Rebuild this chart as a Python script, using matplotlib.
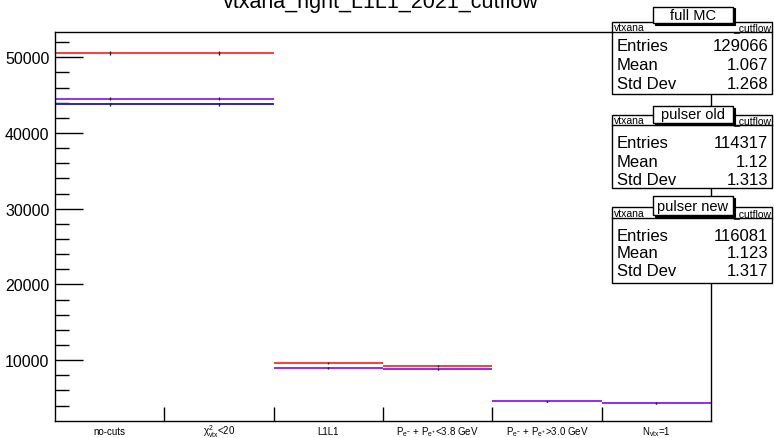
import numpy as np
import matplotlib.pyplot as plt
from matplotlib.patches import Rectangle

plt.rcParams['font.family'] = ['Liberation Sans', 'DejaVu Sans']
plt.rcParams['mathtext.fontset'] = 'custom'
plt.rcParams['mathtext.rm'] = 'Liberation Sans'
plt.rcParams['mathtext.it'] = 'Liberation Sans'

# cutflow bins
cut_labels = ["no-cuts", r"$\chi^{2}_{vtx}$<20", "L1L1",
              r"P$_{e^{-}}$ + P$_{e^{+}}$<3.8 GeV", r"P$_{e^{-}}$ + P$_{e^{+}}$>3.0 GeV",
              r"N$_{vtx}$=1"]
full_mc = [50600, 50600, 9650, 9250, 4580, 4336]
pulser_new = [44560, 44560, 9000, 8820, 4600, 4400]
pulser_old = [43820, 43820, 8980, 8780, 4580, 4337]

stat_names = ["full MC", "pulser old", "pulser new"]
stat_entries = ["129066", "114317", "116081"]
stat_means = ["1.067", "1.12", "1.123"]
stat_stds = ["1.268", "1.313", "1.317"]
hist_name = "vtxana_right_L1L1_2021_cutflow"

W, H = 774, 439
fig = plt.figure(figsize=(W / 100, H / 100), dpi=100)
ax = fig.add_axes([55 / W, 1 - 422 / H, (711 - 55) / W, (422 - 33) / H])

edges = np.arange(len(cut_labels) + 1) - 0.5
centers = np.arange(len(cut_labels))

# drawing order: red, blue, purple on top
series = [(full_mc, '#ff3b3b'), (pulser_old, '#2a2aa8'), (pulser_new, '#9a2ff5')]
for vals, col in series:
    vals = np.array(vals, dtype=float)
    ax.hlines(vals, edges[:-1], edges[1:], colors=col, linewidth=1.4, zorder=2)
    ax.errorbar(centers, vals, yerr=np.sqrt(vals), fmt='none', ecolor='#222222',
                elinewidth=1.0, capsize=0, zorder=3)

ax.set_xlim(edges[0], edges[-1])
ax.set_ylim(1960, 53350)
ax.set_xticks(edges[1:-1])
ax.set_xticklabels([])
ax.tick_params(axis='x', which='major', direction='in', length=10, width=1, bottom=True, top=False)
for c, lab in zip(centers, cut_labels):
    ax.text(c, -10 / 389, lab, transform=ax.get_xaxis_transform(), ha='center', va='center',
            fontsize=7)
ax.set_yticks([10000, 20000, 30000, 40000, 50000])
ax.set_yticks(np.arange(4000, 53000, 2000), minor=True)
ax.tick_params(axis='y', which='major', direction='in', length=20, width=1, labelsize=11.5, pad=4)
ax.tick_params(axis='y', which='minor', direction='in', length=10, width=1)
for s in ax.spines.values():
    s.set_linewidth(1)

fig.text(381 / W, 1 - 8 / H, hist_name, ha='center', va='baseline', fontsize=15.5)


def fy(p):
    return 1 - p / H


def fx(p):
    return p / W


boxes = [(22.7, 32.7, 95, (7.7, 24.3), (46.5, 65.5, 84.5)),
         (116, 126, 189, (107, 124), (144, 162.5, 180.5)),
         (208.3, 219.3, 284, (197.3, 216), (236.5, 254, 271.5))]
for i, (top, div, bot, (lt, lb), rows) in enumerate(boxes):
    fig.patches.append(Rectangle((fx(612), fy(bot)), fx(772) - fx(612), fy(top) - fy(bot),
                                 transform=fig.transFigure, facecolor='white', edgecolor='black',
                                 linewidth=1, zorder=5))
    fig.lines.append(plt.Line2D([fx(612), fx(772)], [fy(div), fy(div)],
                                transform=fig.transFigure, color='black', linewidth=1, zorder=6))
    fig.text(fx(614), fy((top + div) / 2), hist_name[:7], fontsize=7.5, va='center', ha='left', zorder=6)
    fig.text(fx(771), fy((top + div) / 2), "_cutflow", fontsize=7.5, va='center', ha='right', zorder=6)
    # label box with shadow
    fig.patches.append(Rectangle((fx(654.5), fy(lb + 1.5)), fx(733) - fx(653), fy(lt) - fy(lb),
                                 transform=fig.transFigure, facecolor='black', edgecolor='black',
                                 linewidth=0.8, zorder=7))
    fig.patches.append(Rectangle((fx(653), fy(lb)), fx(733) - fx(653), fy(lt) - fy(lb),
                                 transform=fig.transFigure, facecolor='white', edgecolor='black',
                                 linewidth=1, zorder=8))
    fig.text(fx(693), fy((lt + lb) / 2), stat_names[i], fontsize=10.5, ha='center', va='center', zorder=9)
    for j, (name, val) in enumerate([("Entries", stat_entries[i]), ("Mean", stat_means[i]),
                                     ("Std Dev", stat_stds[i])]):
        fig.text(fx(617), fy(rows[j]), name, fontsize=12, ha='left', va='center', zorder=6)
        fig.text(fx(768), fy(rows[j]), val, fontsize=12, ha='right', va='center', zorder=6)

fig.savefig("out.png", dpi=100)
